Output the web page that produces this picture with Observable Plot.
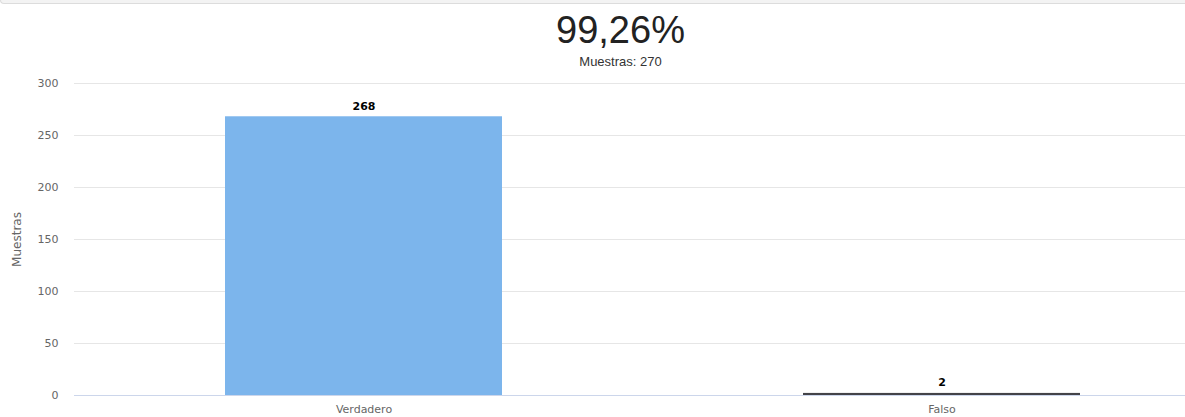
<!DOCTYPE html>
<html>
<head>
<meta charset="utf-8">
<script src="https://cdn.jsdelivr.net/npm/d3@7"></script>
<script src="https://cdn.jsdelivr.net/npm/@observablehq/plot@0.6"></script>
<style>
  html, body { margin: 0; padding: 0; background: #fff; overflow: hidden; }
  #wrap { position: relative; width: 1241px; }
  #topbar { position: absolute; left: 0; top: 0; width: 1241px; height: 3px; background: #f3f3f3;
            border-bottom: 1px solid #dcdcdc; border-left: 1px solid #dcdcdc; border-bottom-left-radius: 4px; box-sizing: content-box; }
  #header { position: relative; height: 70px; }
  #title { position: absolute; left: 0; width: 1241px; top: 11px; text-align: center;
           font-family: "Liberation Sans", Arial, sans-serif; font-size: 38px; line-height: 1; color: #222; }
  #subtitle { position: absolute; left: 0; width: 1241px; top: 55px; text-align: center;
              font-family: "Liberation Sans", Arial, sans-serif; font-size: 13px; line-height: 1; color: #333; }
  svg { display: block; }
</style>
</head>
<body>
<div id="wrap">
  <div id="topbar"></div>
  <div id="header">
    <div id="title"></div>
    <div id="subtitle"></div>
  </div>
  <div id="chart"></div>
</div>
<script>
const categories = ["Verdadero", "Falso"];
const values = [268, 2];
const colors = ["#7cb5ec", "#434348"];
const yTicks = [0, 50, 100, 150, 200, 250, 300];
const titleText = "99,26%";
const subtitleText = "Muestras: 270";
const yLabel = "Muestras";

document.getElementById("title").textContent = titleText;
document.getElementById("subtitle").textContent = subtitleText;

const data = categories.map((c, i) => ({cat: c, value: values[i], color: colors[i]}));

const chart = Plot.plot({
  width: 1241,
  height: 347,
  marginLeft: 74,
  marginRight: 10,
  marginTop: 13,
  marginBottom: 22,
  style: {fontFamily: "DejaVu Sans, sans-serif", fontSize: "11px", color: "#666", background: "#fff"},
  x: {domain: categories, paddingInner: 0.52, paddingOuter: 0.26, label: null},
  y: {domain: [0, 300], label: null},
  marks: [
    Plot.ruleY(yTicks.filter(d => d > 0), {stroke: "#e6e6e6", strokeWidth: 1}),
    Plot.barY(data, {x: "cat", y: "value", fill: "color"}),
    Plot.ruleY([0], {stroke: "#ccd6eb", strokeWidth: 1}),
    Plot.text(data, {x: "cat", y: "value", text: d => String(d.value), dy: -7, lineAnchor: "bottom",
      fontWeight: "bold", fontSize: 11, fill: "#000", stroke: "white", strokeWidth: 2, paintOrder: "stroke"}),
    Plot.axisX({tickSize: 0, tickPadding: 10, fill: "#666", fontSize: 11, label: null}),
    Plot.axisY({ticks: yTicks, tickSize: 0, tickPadding: 16, fill: "#666", fontSize: 11, label: null}),
    Plot.text([yLabel], {frameAnchor: "left", dx: -57, rotate: -90, text: d => d, fontSize: 12, fill: "#666", textAnchor: "middle"})
  ]
});
document.getElementById("chart").appendChild(chart);
</script>
</body>
</html>
